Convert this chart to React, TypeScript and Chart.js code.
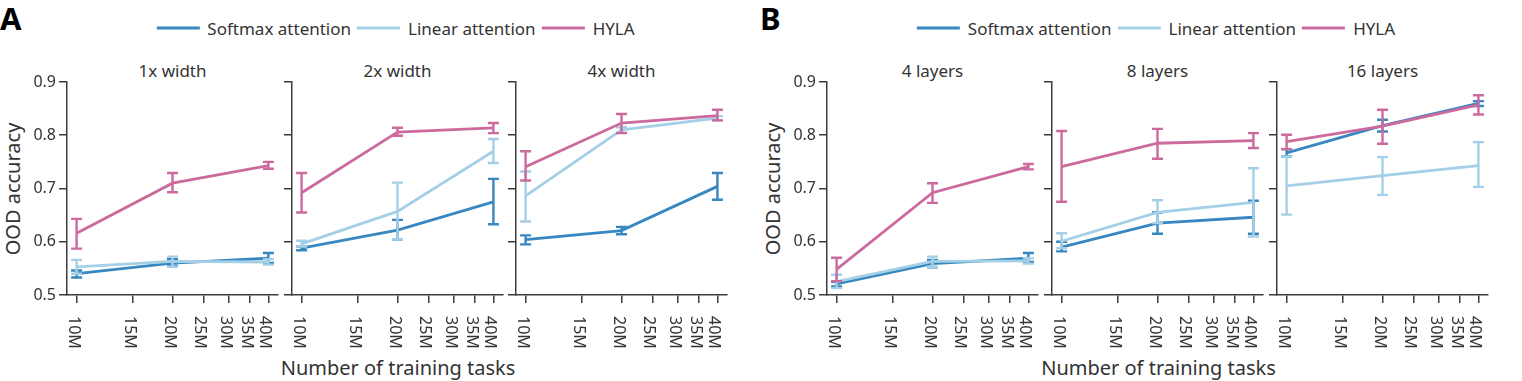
import React, { useEffect, useRef } from "react";
import { Chart, registerables } from "chart.js";

Chart.register(...registerables);

// ---------------- data ----------------
const taskCounts = [10e6, 20e6, 40e6];
const tickValues = [10e6, 15e6, 20e6, 25e6, 30e6, 35e6, 40e6];
const tickLabels = ["10M", "15M", "20M", "25M", "30M", "35M", "40M"];
const yTickValues = [0.5, 0.6, 0.7, 0.8, 0.9];
const seriesNames = ["Softmax attention", "Linear attention", "HYLA"];
const seriesColors = ["#3787c0", "#a5cfe6", "#cc6a9e"];
const panelLetters = ["A", "B"];
const subplotTitles = ["1x width", "2x width", "4x width", "4 layers", "8 layers", "16 layers"];
const yAxisTitle = "OOD accuracy";
const xAxisTitle = "Number of training tasks";

// rows: 1x width, 2x width, 4x width, 4 layers, 8 layers, 16 layers
const softmaxMean = [
  [0.540, 0.560, 0.569],
  [0.588, 0.622, 0.675],
  [0.604, 0.621, 0.704],
  [0.521, 0.559, 0.569],
  [0.590, 0.635, 0.646],
  [0.767, 0.818, 0.860],
];
const softmaxLo = [
  [0.533, 0.555, 0.560],
  [0.584, 0.604, 0.633],
  [0.595, 0.614, 0.679],
  [0.516, 0.552, 0.562],
  [0.582, 0.615, 0.615],
  [0.760, 0.807, 0.855],
];
const softmaxHi = [
  [0.546, 0.567, 0.579],
  [0.591, 0.641, 0.718],
  [0.612, 0.628, 0.729],
  [0.525, 0.566, 0.579],
  [0.600, 0.655, 0.677],
  [0.774, 0.829, 0.864],
];
const linearMean = [
  [0.553, 0.563, 0.562],
  [0.596, 0.657, 0.770],
  [0.686, 0.810, 0.832],
  [0.525, 0.563, 0.564],
  [0.601, 0.655, 0.674],
  [0.705, 0.724, 0.743],
];
const linearLo = [
  [0.540, 0.553, 0.557],
  [0.591, 0.604, 0.748],
  [0.638, 0.805, 0.828],
  [0.513, 0.553, 0.559],
  [0.588, 0.635, 0.610],
  [0.651, 0.688, 0.703],
];
const linearHi = [
  [0.566, 0.572, 0.567],
  [0.602, 0.711, 0.793],
  [0.732, 0.815, 0.836],
  [0.538, 0.572, 0.569],
  [0.616, 0.678, 0.738],
  [0.760, 0.759, 0.787],
];
const hylaMean = [
  [0.616, 0.710, 0.743],
  [0.692, 0.806, 0.814],
  [0.741, 0.823, 0.837],
  [0.548, 0.692, 0.741],
  [0.741, 0.785, 0.790],
  [0.788, 0.817, 0.857],
];
const hylaLo = [
  [0.587, 0.693, 0.737],
  [0.655, 0.799, 0.804],
  [0.715, 0.804, 0.828],
  [0.526, 0.673, 0.736],
  [0.675, 0.756, 0.776],
  [0.774, 0.784, 0.839],
];
const hylaHi = [
  [0.643, 0.729, 0.750],
  [0.729, 0.814, 0.823],
  [0.770, 0.840, 0.848],
  [0.570, 0.710, 0.746],
  [0.808, 0.812, 0.804],
  [0.801, 0.848, 0.875],
];

// ---------------- layout / style ----------------
const FONT = '"Noto Sans", "Open Sans", "DejaVu Sans", sans-serif';
const TEXT = "#333333";
const AXIS = "#3c3c3c";
const PLOT_LEFTS = [67, 292, 516, 827, 1052, 1277];
const PLOT_W = 211;
const PLOT_TOP = 82;
const PLOT_BOTTOM = 295;
const AXIS_W = 60;
const CANVAS_TOP = 60;
const CANVAS_H = 300;
const RIGHT_PAD = 4;
const CANVAS_W = PLOT_W + AXIS_W + RIGHT_PAD;
const X_MIN = 9.33e6;
const X_MAX = 4.287e7;

function Subplot({ idx }: { idx: number }) {
  const ref = useRef<HTMLCanvasElement | null>(null);

  useEffect(() => {
    const canvas = ref.current;
    if (!canvas) return;
    const first = idx % 3 === 0;
    const means = [softmaxMean[idx], linearMean[idx], hylaMean[idx]];
    const los = [softmaxLo[idx], linearLo[idx], hylaLo[idx]];
    const his = [softmaxHi[idx], linearHi[idx], hylaHi[idx]];

    const datasets: any[] = seriesNames.map((name, s) => ({
      label: name,
      data: taskCounts.map((x, i) => ({ x, y: means[s][i] })),
      errLo: los[s],
      errHi: his[s],
      borderColor: seriesColors[s],
      backgroundColor: seriesColors[s],
      borderWidth: 2.8,
      pointRadius: 0,
      pointHoverRadius: 0,
      tension: 0,
      fill: false,
      order: 3 - s,
      clip: false,
    }));

    const errorBars = {
      id: "errorBars",
      afterDatasetDraw(chart: any, args: any) {
        const ds = chart.data.datasets[args.index];
        const meta = args.meta;
        const ys = chart.scales.y;
        const ctx = chart.ctx;
        ctx.save();
        ctx.strokeStyle = ds.borderColor;
        ctx.lineWidth = 2.4;
        ctx.lineCap = "butt";
        meta.data.forEach((pt: any, i: number) => {
          const x = pt.x;
          const y1 = ys.getPixelForValue(ds.errLo[i]);
          const y2 = ys.getPixelForValue(ds.errHi[i]);
          ctx.beginPath();
          ctx.moveTo(x, y1);
          ctx.lineTo(x, y2);
          ctx.moveTo(x - 5.5, y1);
          ctx.lineTo(x + 5.5, y1);
          ctx.moveTo(x - 5.5, y2);
          ctx.lineTo(x + 5.5, y2);
          ctx.stroke();
        });
        ctx.restore();
      },
    };

    const xLabels = {
      id: "xLabels",
      afterDraw(chart: any) {
        const ctx = chart.ctx;
        const xs = chart.scales.x;
        const top = chart.chartArea.bottom + 21;
        ctx.save();
        ctx.font = `16px ${FONT}`;
        ctx.fillStyle = TEXT;
        ctx.textAlign = "left";
        ctx.textBaseline = "alphabetic";
        tickValues.forEach((v, i) => {
          const x = xs.getPixelForValue(v);
          ctx.save();
          ctx.translate(x, top);
          ctx.rotate(Math.PI / 2);
          ctx.fillText(tickLabels[i], 0, 8);
          ctx.restore();
        });
        ctx.restore();
      },
    };

    const chart = new Chart(canvas, {
      type: "line",
      data: { datasets },
      options: {
        responsive: false,
        animation: false,
        devicePixelRatio: 1,
        events: [],
        layout: {
          padding: { top: PLOT_TOP - CANVAS_TOP, right: RIGHT_PAD, left: 0, bottom: 0 },
        },
        plugins: {
          legend: { display: false },
          tooltip: { enabled: false },
          title: { display: false },
        },
        scales: {
          x: {
            type: "logarithmic",
            min: X_MIN,
            max: X_MAX,
            afterBuildTicks: (scale: any) => {
              scale.ticks = tickValues.map((v) => ({ value: v }));
            },
            afterFit: (scale: any) => {
              scale.height = CANVAS_TOP + CANVAS_H - PLOT_BOTTOM;
            },
            ticks: { display: false },
            grid: {
              drawOnChartArea: false,
              drawTicks: true,
              tickLength: 8,
              color: AXIS,
              lineWidth: 1.5,
            },
            border: { display: true, color: AXIS, width: 1.5 },
          },
          y: {
            type: "linear",
            min: 0.5,
            max: 0.9,
            afterBuildTicks: (scale: any) => {
              scale.ticks = yTickValues.map((v) => ({ value: v }));
            },
            afterFit: (scale: any) => {
              scale.width = AXIS_W;
            },
            ticks: {
              display: first,
              padding: 3,
              color: TEXT,
              font: { family: FONT, size: 16 },
              callback: (v: any) => Number(v).toFixed(1),
            },
            grid: {
              drawOnChartArea: false,
              drawTicks: true,
              tickLength: 8,
              color: AXIS,
              lineWidth: 1.5,
            },
            border: { display: true, color: AXIS, width: 1.5 },
          },
        },
      } as any,
      plugins: [errorBars, xLabels],
    });
    return () => chart.destroy();
  }, [idx]);

  return (
    <canvas
      ref={ref}
      width={CANVAS_W}
      height={CANVAS_H}
      style={{
        position: "absolute",
        left: PLOT_LEFTS[idx] - AXIS_W,
        top: CANVAS_TOP,
        width: CANVAS_W,
        height: CANVAS_H,
      }}
    />
  );
}

const centered = (x: number, y: number, extra: React.CSSProperties = {}): React.CSSProperties => ({
  position: "absolute",
  left: x,
  top: y,
  transform: "translate(-50%, -50%)",
  lineHeight: 1,
  whiteSpace: "nowrap",
  fontFamily: FONT,
  color: TEXT,
  ...extra,
});

function Legend({ cx }: { cx: number }) {
  return (
    <div
      style={{
        position: "absolute",
        left: cx,
        top: 28,
        transform: "translate(-50%, -50%)",
        display: "flex",
        alignItems: "center",
        fontFamily: FONT,
        fontSize: 17,
        color: TEXT,
        lineHeight: 1,
        whiteSpace: "nowrap",
      }}
    >
      {seriesNames.map((name, s) => (
        <div key={name} style={{ display: "flex", alignItems: "center", marginLeft: s === 0 ? 0 : 6 }}>
          <div style={{ width: 43, height: 3, background: seriesColors[s], marginRight: 8 }} />
          <span>{name}</span>
        </div>
      ))}
    </div>
  );
}

export default function App() {
  const panelStart = [0, 3];
  return (
    <div
      style={{
        position: "fixed",
        left: 0,
        top: 0,
        width: 1522,
        height: 381,
        background: "#ffffff",
        overflow: "hidden",
      }}
    >
      {panelStart.map((p, k) => {
        const left = PLOT_LEFTS[p];
        const right = PLOT_LEFTS[p + 2] + PLOT_W;
        const cx = (left + right) / 2;
        return (
          <React.Fragment key={k}>
            <div
              style={{
                position: "absolute",
                left: k === 0 ? 0 : 760,
                top: 17.5,
                transform: "translateY(-50%)",
                fontFamily: FONT,
                fontWeight: 700,
                fontSize: 31,
                lineHeight: 1,
                color: "#000",
              }}
            >
              {panelLetters[k]}
            </div>
            <Legend cx={cx - 1.5} />
            <div style={centered(cx + 1, 367.5, { fontSize: 20 })}>{xAxisTitle}</div>
            <div
              style={{
                ...centered(k === 0 ? 13 : 773, (PLOT_TOP + PLOT_BOTTOM) / 2, { fontSize: 20 }),
                transform: "translate(-50%, -50%) rotate(-90deg)",
              }}
            >
              {yAxisTitle}
            </div>
          </React.Fragment>
        );
      })}
      {subplotTitles.map((t, i) => (
        <div key={t} style={centered(PLOT_LEFTS[i] + PLOT_W / 2, 69.5, { fontSize: 17 })}>
          {t}
        </div>
      ))}
      {PLOT_LEFTS.map((_, i) => (
        <Subplot key={i} idx={i} />
      ))}
    </div>
  );
}
